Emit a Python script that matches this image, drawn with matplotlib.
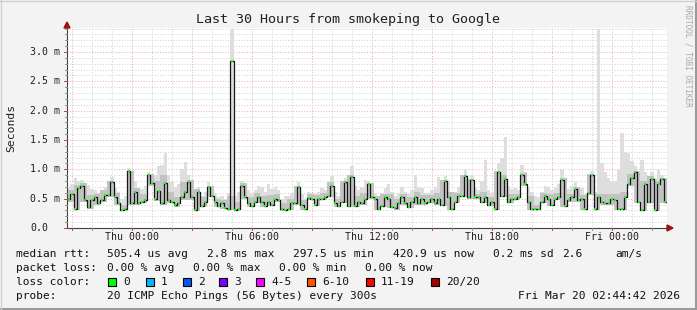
import numpy as np
import matplotlib
matplotlib.use("Agg")
import matplotlib.pyplot as plt
from matplotlib.patches import Rectangle

W, H = 697, 310

# median rtt in ms, 10 minute steps starting Wed 20:45
median = [0.50, 0.58, 0.33, 0.68, 0.72, 0.47, 0.35, 0.48, 0.52, 0.42,
          0.47, 0.57, 0.56, 0.78, 0.53, 0.42, 0.31, 0.32, 0.98, 0.42,
          0.62, 0.42, 0.45, 0.48, 0.90, 0.76, 0.50, 0.63, 0.42, 0.76,
          0.48, 0.45, 0.39, 0.42, 0.52, 0.62, 0.78, 0.52, 0.31, 0.62,
          0.38, 0.45, 0.70, 0.55, 0.45, 0.38, 0.42, 0.34, 0.33, 2.84,
          0.31, 0.33, 0.72, 0.52, 0.42, 0.38, 0.45, 0.52, 0.44, 0.38,
          0.45, 0.40, 0.49, 0.48, 0.33, 0.31, 0.33, 0.42, 0.42, 0.70,
          0.40, 0.32, 0.51, 0.50, 0.40, 0.50, 0.50, 0.52, 0.55, 0.72,
          0.42, 0.38, 0.45, 0.78, 0.38, 0.87, 0.38, 0.45, 0.42, 0.50,
          0.75, 0.52, 0.50, 0.33, 0.38, 0.52, 0.50, 0.36, 0.34, 0.42,
          0.52, 0.42, 0.36, 0.45, 0.52, 0.42, 0.50, 0.42, 0.45, 0.50,
          0.43, 0.50, 0.40, 0.80, 0.52, 0.33, 0.45, 0.55, 0.55, 0.88,
          0.52, 0.82, 0.52, 0.52, 0.45, 0.52, 0.40, 0.45, 0.33, 0.96,
          0.55, 0.83, 0.45, 0.50, 0.50, 0.52, 0.91, 0.75, 0.45, 0.33,
          0.33, 0.33, 0.45, 0.55, 0.50, 0.40, 0.50, 0.52, 0.82, 0.38,
          0.48, 0.52, 0.66, 0.48, 0.50, 0.33, 0.60, 0.90, 0.32, 0.52,
          0.45, 0.43, 0.42, 0.50, 0.48, 0.32, 0.32, 0.52, 0.75, 0.85,
          0.96, 0.45, 0.31, 0.75, 0.45, 0.83, 0.31, 0.75, 0.83, 0.45]

# top of the smoke, 10 minute steps
smoke_max = [0.70, 0.75, 0.85, 0.80, 0.82, 0.70, 0.73, 0.66, 0.65, 0.60,
             0.62, 0.70, 0.72, 0.87, 0.68, 0.62, 0.50, 0.55, 1.02, 0.85,
             0.80, 0.66, 0.66, 0.72, 0.95, 0.88, 0.90, 1.05, 1.07, 1.28,
             0.90, 0.78, 0.70, 0.75, 1.00, 1.12, 0.90, 0.80, 0.55, 0.70,
             0.55, 0.62, 0.78, 0.70, 0.58, 0.52, 0.55, 0.50, 0.60, 3.40,
             0.55, 0.62, 0.80, 0.72, 0.65, 0.58, 0.65, 0.72, 0.70, 0.62,
             0.75, 0.66, 0.70, 0.65, 0.50, 0.55, 0.55, 0.60, 0.66, 0.78,
             0.58, 0.50, 0.62, 0.60, 0.58, 0.62, 0.68, 0.64, 0.76, 0.88,
             0.62, 0.55, 0.70, 0.85, 0.72, 1.05, 0.72, 0.65, 0.70, 0.82,
             0.80, 0.70, 0.60, 0.52, 0.60, 0.68, 0.75, 0.62, 0.55, 0.60,
             0.70, 0.62, 0.58, 0.65, 0.90, 0.70, 0.68, 0.60, 0.60, 0.65,
             0.70, 0.87, 0.72, 0.88, 0.82, 0.62, 0.62, 0.70, 0.80, 0.99,
             0.82, 0.90, 0.68, 0.64, 0.80, 1.16, 0.65, 0.60, 0.70, 1.10,
             1.20, 1.55, 0.72, 0.66, 0.68, 0.64, 1.07, 0.95, 0.70, 0.62,
             0.55, 0.52, 0.62, 0.72, 0.70, 0.64, 0.68, 0.75, 0.99, 0.80,
             0.66, 0.72, 0.78, 0.70, 0.68, 0.58, 0.80, 0.98, 0.62, 3.40,
             1.10, 0.95, 0.85, 0.80, 0.80, 1.00, 1.62, 1.30, 1.28, 1.15,
             1.05, 0.90, 1.16, 0.95, 0.88, 0.95, 0.85, 0.99, 0.90, 0.80]

# lower edge and dense part of the smoke, 20 minute steps
smoke_lo = [0.45, 0.30, 0.44, 0.32, 0.39, 0.44, 0.52, 0.39, 0.29, 0.39,
            0.39, 0.42, 0.72, 0.46, 0.39, 0.42, 0.36, 0.48, 0.48, 0.29,
            0.35, 0.52, 0.35, 0.32, 0.30, 0.29, 0.49, 0.35, 0.42, 0.35,
            0.37, 0.45, 0.29, 0.30, 0.39, 0.30, 0.47, 0.37, 0.47, 0.52,
            0.35, 0.42, 0.35, 0.35, 0.39, 0.49, 0.31, 0.35, 0.34, 0.31,
            0.39, 0.34, 0.39, 0.39, 0.42, 0.40, 0.37, 0.31, 0.42, 0.52,
            0.49, 0.49, 0.42, 0.37, 0.31, 0.52, 0.42, 0.47, 0.72, 0.31,
            0.30, 0.42, 0.37, 0.47, 0.35, 0.45, 0.45, 0.31, 0.56, 0.30,
            0.40, 0.39, 0.30, 0.30, 0.72, 0.42, 0.29, 0.42, 0.29, 0.42]
smoke_p75 = [0.65, 0.74, 0.76, 0.56, 0.58, 0.64, 0.80, 0.60, 0.40, 0.98,
             0.68, 0.58, 0.92, 0.80, 0.90, 0.62, 0.52, 0.78, 0.82, 0.66,
             0.52, 0.72, 0.50, 0.48, 0.55, 0.45, 0.76, 0.52, 0.60, 0.55,
             0.56, 0.58, 0.42, 0.50, 0.72, 0.48, 0.58, 0.57, 0.60, 0.78,
             0.50, 0.80, 0.90, 0.55, 0.60, 0.77, 0.55, 0.58, 0.58, 0.50,
             0.58, 0.53, 0.62, 0.56, 0.56, 0.60, 0.82, 0.62, 0.60, 0.90,
             0.84, 0.58, 0.62, 0.52, 0.98, 0.90, 0.58, 0.58, 0.94, 0.55,
             0.40, 0.60, 0.58, 0.60, 0.86, 0.58, 0.70, 0.56, 0.92, 0.58,
             0.58, 0.58, 0.58, 0.62, 0.92, 0.98, 0.80, 0.88, 0.80, 0.86]

x_labels = ["Thu 00:00", "Thu 06:00", "Thu 12:00", "Thu 18:00", "Fri 00:00"]
x_label_hours = [3.25, 9.25, 15.25, 21.25, 27.25]
y_ticks = [0.0, 0.5, 1.0, 1.5, 2.0, 2.5, 3.0]
y_labels = ["0.0", "0.5 m", "1.0 m", "1.5 m", "2.0 m", "2.5 m", "3.0 m"]

loss_names = ["0", "1", "2", "3", "4-5", "6-10", "11-19", "20/20"]
loss_colors = ["#00ff00", "#00b8ff", "#0059ff", "#7e00ff", "#ff00ff",
               "#ff5500", "#ff0000", "#a10000"]
loss_box_x = [108, 146, 183, 219, 256, 307, 366, 431]

plt.rcParams['font.family'] = ['DejaVu Sans Mono']

def fx(x):
    return x / W

def fy(y):
    return 1 - y / H

fig = plt.figure(figsize=(W / 100, H / 100), dpi=100, facecolor="#f3f3f3")
ax = fig.add_axes([fx(67), fy(228), 600 / W, 200 / H])
ax.set_facecolor("white")
ax.set_xlim(0, 30)
ax.set_ylim(0, 200 / 58.67)

# grid
for h in np.arange(0.25, 30, 1.0):
    major = abs((h - 0.25) % 3) < 1e-6
    ax.axvline(h, color="#eaa8a8" if major else "#d0d0d0", lw=0.7,
               ls=(0, (1, 1.8)), zorder=0)
for v in np.arange(0.1, 3.41, 0.1):
    major = abs(round(v * 10) % 5) == 0
    ax.axhline(v, color="#eaa8a8" if major else "#d0d0d0", lw=0.7,
               ls=(0, (1, 1.8)), zorder=0)

step = 1 / 6
t = np.arange(len(median)) * step
t_edge = np.append(t, 30)
med_e = np.append(median, median[-1])
max_e = np.append(smoke_max, smoke_max[-1])
lo_e = np.append(np.repeat(smoke_lo, 2), smoke_lo[-1])
p75_e = np.append(np.repeat(smoke_p75, 2), smoke_p75[-1])

ax.fill_between(t_edge, lo_e, max_e, step="post", color="#dedede", lw=0, zorder=1)
ax.fill_between(t_edge, lo_e, p75_e, step="post", color="#c2c2c2", lw=0, zorder=2)
ax.step(t_edge, med_e, where="post", color="#151515", lw=0.9, zorder=3)
ax.hlines(median, t + 0.04, t + 0.13, color="#22ee22", lw=1.5, zorder=4)

for s in ax.spines.values():
    s.set_visible(False)
ax.set_xticks([])
ax.set_yticks([])

# axes lines with arrows
fig.add_artist(plt.Line2D([fx(67), fx(667)], [fy(228), fy(228)], color="#404040", lw=0.8))
fig.add_artist(plt.Line2D([fx(67), fx(67)], [fy(228), fy(26)], color="#404040", lw=0.8))
fig.patches.append(plt.Polygon([[fx(667), fy(225)], [fx(673), fy(228)], [fx(667), fy(231)]],
                               closed=True, color="#a01010", transform=fig.transFigure))
fig.patches.append(plt.Polygon([[fx(64), fy(28)], [fx(67), fy(22)], [fx(70), fy(28)]],
                               closed=True, color="#a01010", transform=fig.transFigure))

# tick marks
for h in np.arange(0.25, 30, 1.0):
    x = 67 + h * 20
    major = abs((h - 0.25) % 3) < 1e-6
    fig.add_artist(plt.Line2D([fx(x), fx(x)], [fy(228), fy(230 if major else 229.5)],
                              color="#c04040" if major else "#909090", lw=0.7))
for v in np.arange(0.0, 3.41, 0.1):
    y = 228 - v * 58.67
    major = abs(round(v * 10) % 5) == 0
    fig.add_artist(plt.Line2D([fx(64 if major else 65), fx(67)], [fy(y), fy(y)],
                              color="#c04040" if major else "#909090", lw=0.7))

for v, lab in zip(y_ticks, y_labels):
    fig.text(fx(30), fy(228 - v * 58.67), lab, fontsize=7.1, ha="left", va="center",
             color="#202020")
for h, lab in zip(x_label_hours, x_labels):
    fig.text(fx(67 + h * 20), fy(237), lab, fontsize=7.1, ha="center", va="center",
             color="#202020")

fig.text(fx(11), fy(128), "Seconds", rotation=90, fontsize=8.2, ha="center", va="center",
         color="#202020")
fig.text(0.5, fy(19), "Last 30 Hours from smokeping to Google", fontsize=9.6,
         ha="center", va="center", color="#202020")
fig.text(fx(688), fy(5), "RRDTOOL / TOBI OETIKER", rotation=270, fontsize=5.6,
         ha="center", va="top", color="#a8a8a8")

fs = 8.0
tc = "#101010"
row1 = [(16, "median rtt:"), (107, "505.4 us avg"), (207, "2.8 ms max"),
        (293, "297.5 us min"), (393, "420.9 us now"), (493, "0.2 ms sd"),
        (562, "2.6"), (615, "am/s")]
row2 = [(16, "packet loss:"), (107, "0.00 % avg"), (193, "0.00 % max"),
        (279, "0.00 % min"), (365, "0.00 % now")]
for x, s in row1:
    fig.text(fx(x), fy(254), s, fontsize=fs, ha="left", va="center", color=tc)
for x, s in row2:
    fig.text(fx(x), fy(268), s, fontsize=fs, ha="left", va="center", color=tc)
fig.text(fx(16), fy(282), "loss color:", fontsize=fs, ha="left", va="center", color=tc)
for bx, name, col in zip(loss_box_x, loss_names, loss_colors):
    fig.patches.append(Rectangle((fx(bx), fy(286)), 8 / W, 8 / H, facecolor=col,
                                 edgecolor="black", lw=0.8, transform=fig.transFigure))
    fig.text(fx(bx + 15), fy(282), name, fontsize=fs, ha="left", va="center", color=tc)
fig.text(fx(16), fy(296), "probe:", fontsize=fs, ha="left", va="center", color=tc)
fig.text(fx(107), fy(296), "20 ICMP Echo Pings (56 Bytes) every 300s", fontsize=fs,
         ha="left", va="center", color=tc)
fig.text(fx(680), fy(296), "Fri Mar 20 02:44:42 2026", fontsize=fs, ha="right",
         va="center", color=tc)

# frame
fig.add_artist(plt.Line2D([0, 1], [fy(309), fy(309)], color="#9a9a9a", lw=1.5))
fig.add_artist(plt.Line2D([fx(696), fx(696)], [0, 1], color="#9a9a9a", lw=1.5))
fig.add_artist(plt.Line2D([0, 1], [fy(0.5), fy(0.5)], color="#d0d0d0", lw=1))
fig.add_artist(plt.Line2D([fx(0.5), fx(0.5)], [0, 1], color="#d0d0d0", lw=1))

fig.savefig("out.png", dpi=100, facecolor=fig.get_facecolor())
